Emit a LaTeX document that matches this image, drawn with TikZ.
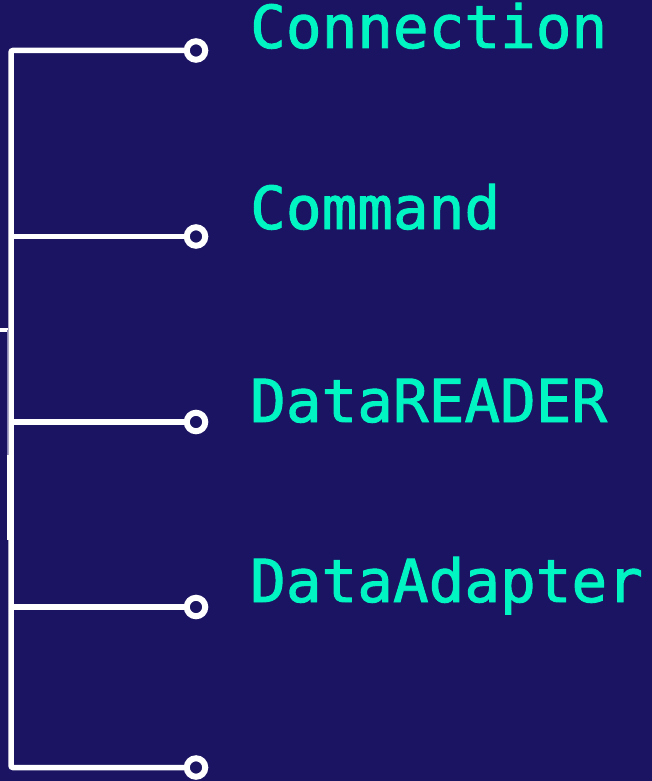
\documentclass[tikz,border=0pt]{standalone}
\usepackage{fontspec}
\newfontfamily\labelfont[FakeBold=1.6]{DejaVu Sans Mono}
\definecolor{bgnavy}{HTML}{1B1462}
\definecolor{mint}{HTML}{00F5C2}
\definecolor{faint}{HTML}{8A86B8}
\tikzset{
  wire/.style={draw=white, line width=5.5pt},
  port/.style={circle, draw=white, line width=6pt, minimum size=18.5pt, inner sep=0pt, fill=bgnavy},
  lbl/.style={anchor=base west, inner sep=0pt, text=mint, font=\labelfont\fontsize{59.3}{59.3}\selectfont},
}
\begin{document}
\begin{tikzpicture}[x=1pt, y=-1pt]
\fill[bgnavy] (0,0) rectangle (652,781);
\useasboundingbox (0,0) rectangle (652,781);
% trunk junctions
\coordinate (top) at (11,50.5);
\coordinate (j2) at (11,236.5);
\coordinate (j3) at (11,422);
\coordinate (j4) at (11,607);
\coordinate (bot) at (11,767.5);
% ports
\node[port] (p1) at (196,50.5) {};
\node[port] (p2) at (196,236.5) {};
\node[port] (p3) at (196,422) {};
\node[port] (p4) at (196,607) {};
\node[port] (p5) at (196,767.5) {};
% connectors
\draw[wire, rounded corners=2pt] (p1.west) -- (top) -- (bot) -- (p5.west);
\draw[wire] (j2) -- (p2.west);
\draw[wire] (j3) -- (p3.west);
\draw[wire] (j4) -- (p4.west);
% left edge fragment
\coordinate (s0) at (0,330);
\coordinate (s1) at (7.8,330);
\coordinate (s2) at (7.8,455);
\coordinate (s3) at (7.8,540);
\draw[white, line width=3.5pt] (s0) -- (s1);
\draw[faint, line width=1.2pt] (s1) -- (s2);
\draw[white, line width=1.6pt] (s2) -- (s3);
% labels
\node[lbl] (l1) at (250,48) {Connection};
\node[lbl] (l2) at (250,229) {Command};
\node[lbl] (l3) at (250,422) {DataREADER};
\node[lbl] (l4) at (250,602) {DataAdapter};
\end{tikzpicture}
\end{document}
